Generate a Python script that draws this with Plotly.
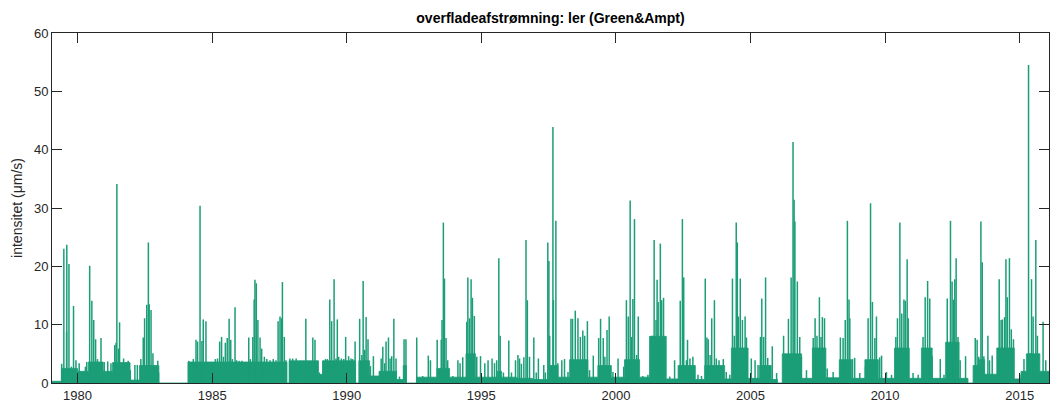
import plotly.graph_objects as go

# ---- data (decimal years, intensity in µm/s) ----
peak_year = [
    1979.41, 1979.49, 1979.59, 1979.60, 1979.68, 1979.77, 1979.85, 1979.94,
    1980.06, 1980.29, 1980.34, 1980.45, 1980.53, 1980.60, 1980.67, 1980.74, 1980.87, 1980.99,
    1981.12, 1981.24, 1981.38, 1981.43, 1981.46, 1981.52, 1981.56, 1981.71, 1981.80, 1981.88, 1981.96,
    1982.13, 1982.22, 1982.35, 1982.44, 1982.49, 1982.57, 1982.63, 1982.66, 1982.73, 1982.80, 1982.89, 1982.98, 1983.01,
    1984.13, 1984.21, 1984.30, 1984.40, 1984.46, 1984.55, 1984.62, 1984.67, 1984.77, 1984.87, 1984.96,
    1985.04, 1985.12, 1985.20, 1985.28, 1985.35, 1985.42, 1985.49, 1985.56, 1985.63, 1985.69, 1985.75, 1985.85, 1985.91,
    1986.01, 1986.11, 1986.26, 1986.36, 1986.42, 1986.51, 1986.56, 1986.59, 1986.64, 1986.70, 1986.78, 1986.84, 1986.94,
    1987.03, 1987.15, 1987.27, 1987.37, 1987.45, 1987.52, 1987.57, 1987.61, 1987.68, 1987.74, 1987.89, 1987.99,
    1988.12, 1988.30, 1988.39, 1988.48, 1988.56, 1988.66, 1988.74, 1988.82, 1988.90, 1988.98,
    1989.13, 1989.21, 1989.28, 1989.37, 1989.44, 1989.53, 1989.60, 1989.65, 1989.70, 1989.80, 1989.89, 1989.96,
    1990.07, 1990.16, 1990.22, 1990.31, 1990.48, 1990.56, 1990.61, 1990.67, 1990.72, 1990.79, 1990.88, 1990.99,
    1991.11, 1991.28, 1991.34, 1991.41, 1991.46, 1991.55, 1991.61, 1991.67, 1991.75, 1991.83, 1991.96,
    1992.13, 1992.20, 1992.60, 1992.82,
    1993.03, 1993.11, 1993.36, 1993.51, 1993.54, 1993.59, 1993.63, 1993.69, 1993.75, 1993.94,
    1994.13, 1994.21, 1994.31, 1994.46, 1994.50, 1994.56, 1994.62, 1994.67, 1994.74, 1994.83, 1994.97,
    1995.13, 1995.25, 1995.40, 1995.49, 1995.57, 1995.65, 1995.70, 1995.82,
    1996.02, 1996.12, 1996.27, 1996.36, 1996.42, 1996.49, 1996.58, 1996.66, 1996.71, 1996.79, 1996.95,
    1997.04, 1997.12, 1997.32, 1997.38, 1997.47, 1997.51, 1997.54, 1997.66, 1997.68, 1997.77, 1997.84, 1997.99,
    1998.09, 1998.22, 1998.33, 1998.39, 1998.49, 1998.59, 1998.68, 1998.77, 1998.84, 1998.94,
    1999.02, 1999.16, 1999.36, 1999.43, 1999.53, 1999.59, 1999.67, 1999.75, 1999.89,
    2000.08, 2000.29, 2000.39, 2000.46, 2000.53, 2000.58, 2000.63, 2000.69, 2000.77, 2000.83,
    2001.00, 2001.19, 2001.29, 2001.35, 2001.42, 2001.49, 2001.53, 2001.57, 2001.65, 2001.70, 2001.77, 2001.82,
    2002.00, 2002.18, 2002.39, 2002.47, 2002.52, 2002.62, 2002.66, 2002.75, 2002.86,
    2003.05, 2003.18, 2003.32, 2003.38, 2003.43, 2003.50, 2003.56, 2003.66, 2003.73, 2003.83, 2003.99,
    2004.10, 2004.23, 2004.33, 2004.40, 2004.47, 2004.51, 2004.55, 2004.62, 2004.70, 2004.80, 2004.85,
    2005.03, 2005.17, 2005.28, 2005.37, 2005.42, 2005.49, 2005.56, 2005.64, 2005.81, 2005.97,
    2006.23, 2006.32, 2006.41, 2006.51, 2006.58, 2006.62, 2006.65, 2006.74, 2006.80, 2006.83, 2006.89,
    2007.08, 2007.33, 2007.40, 2007.47, 2007.56, 2007.62, 2007.67, 2007.75, 2007.85,
    2008.07, 2008.34, 2008.44, 2008.52, 2008.60, 2008.66, 2008.69, 2008.79, 2008.87,
    2009.06, 2009.27, 2009.37, 2009.46, 2009.53, 2009.62, 2009.68, 2009.80, 2009.87,
    2010.05, 2010.24, 2010.40, 2010.46, 2010.55, 2010.62, 2010.70, 2010.75, 2010.82, 2010.86,
    2011.04, 2011.23, 2011.41, 2011.49, 2011.58, 2011.66, 2011.75,
    2012.05, 2012.19, 2012.31, 2012.43, 2012.49, 2012.55, 2012.59, 2012.64, 2012.71, 2012.79, 2012.99,
    2013.35, 2013.42, 2013.48, 2013.56, 2013.61, 2013.67, 2013.82, 2013.88, 2013.98,
    2014.24, 2014.31, 2014.36, 2014.44, 2014.49, 2014.54, 2014.62, 2014.69, 2014.77,
    2015.01, 2015.16, 2015.33, 2015.38, 2015.44, 2015.50, 2015.60, 2015.66, 2015.75, 2015.87, 2015.97, 2016.06,
]
peak_value = [
    3.3, 23.0, 8.8, 23.7, 20.4, 2.8, 13.2, 3.9,
    3.4, 2.8, 3.6, 20.1, 14.1, 10.8, 7.5, 4.1, 7.7, 3.6,
    3.7, 3.4, 6.5, 6.9, 34.1, 5.9, 10.4, 4.2, 3.5, 3.8, 2.2,
    3.1, 3.1, 4.1, 7.8, 11.1, 13.4, 24.1, 13.5, 12.5, 5.1, 2.7, 3.8, 1.8,
    3.8, 3.4, 4.1, 7.4, 7.1, 30.4, 7.2, 10.9, 10.6, 3.6, 3.6,
    3.4, 4.1, 4.2, 7.1, 7.9, 4.5, 6.9, 7.7, 11.0, 7.4, 4.1, 13.0, 3.9,
    3.8, 3.8, 3.6, 7.8, 4.1, 7.9, 14.3, 17.7, 17.1, 10.8, 7.8, 5.9, 4.5,
    4.1, 3.9, 4.1, 3.9, 10.6, 11.4, 11.1, 17.3, 7.9, 3.9, 4.2, 4.2,
    4.2, 3.8, 3.8, 11.0, 3.8, 3.8, 7.8, 7.4, 3.8, 1.8,
    3.8, 4.1, 4.1, 14.3, 10.6, 17.8, 4.2, 10.9, 4.5, 4.2, 4.1, 7.9,
    4.6, 4.2, 4.1, 7.1, 11.0, 4.8, 17.5, 5.7, 11.3, 7.5, 2.9, 4.6,
    1.1, 4.2, 6.2, 3.4, 7.1, 7.8, 4.2, 4.6, 11.0, 4.2, 1.1,
    7.5, 7.5, 7.8, 1.2,
    4.7, 3.9, 7.4, 7.4, 10.8, 27.5, 17.9, 7.7, 3.9, 1.2,
    3.9, 3.4, 4.4, 10.5, 18.1, 11.1, 17.8, 14.6, 11.5, 4.5, 4.6,
    3.4, 3.9, 4.2, 3.4, 3.9, 21.4, 8.1, 1.8,
    7.3, 1.8, 3.9, 4.8, 4.2, 3.3, 4.4, 24.5, 14.2, 4.5, 7.8,
    1.8, 4.2, 3.1, 1.8, 24.1, 20.9, 8.1, 43.9, 14.2, 27.8, 3.4, 3.9,
    4.1, 1.9, 11.0, 11.0, 12.4, 11.1, 7.9, 9.0, 8.1, 10.6,
    2.2, 4.7, 7.7, 11.0, 7.7, 4.5, 9.1, 11.4, 1.9,
    4.2, 2.8, 14.2, 11.4, 31.3, 7.9, 14.4, 28.1, 4.8, 11.4,
    1.2, 1.4, 3.9, 8.1, 24.5, 10.8, 17.7, 13.9, 23.9, 14.2, 14.6, 7.8,
    1.1, 3.9, 14.1, 28.1, 18.1, 3.9, 7.4, 4.2, 4.5,
    1.4, 1.2, 17.9, 7.8, 7.5, 4.8, 11.1, 14.2, 4.2, 3.9, 4.1,
    1.9, 1.4, 17.9, 8.1, 27.5, 24.1, 11.4, 17.9, 10.8, 11.4, 7.8,
    4.2, 3.9, 3.1, 7.9, 14.5, 7.9, 18.1, 4.3, 6.3, 1.7,
    8.1, 4.2, 11.0, 18.1, 41.3, 31.4, 27.7, 17.4, 4.8, 7.9, 4.5,
    2.2, 7.7, 11.1, 8.1, 14.7, 7.9, 11.3, 11.1, 2.5,
    1.9, 7.8, 7.7, 10.8, 27.8, 14.3, 11.1, 4.1, 4.3,
    1.7, 2.8, 11.1, 30.8, 13.9, 7.7, 11.4, 4.4, 4.7,
    1.9, 1.4, 7.9, 11.1, 27.5, 11.9, 14.3, 14.1, 21.2, 11.1,
    1.7, 1.4, 7.9, 14.7, 17.5, 14.5, 4.6,
    4.1, 1.4, 14.5, 27.8, 17.4, 14.3, 17.8, 21.4, 7.9, 3.9, 4.6,
    7.7, 7.4, 4.5, 27.7, 20.7, 4.6, 8.1, 3.9, 4.7,
    17.8, 10.8, 10.9, 11.3, 21.2, 14.7, 21.4, 9.2, 7.5,
    1.4, 4.1, 54.5, 5.1, 17.8, 11.4, 24.5, 8.1, 1.5, 10.5, 3.9, 1.0,
]

# dense "floor" of the series: level held from each year until the next one
base_year = [
    1979.00, 1979.40, 1980.00, 1980.40, 1980.95, 1981.30, 1981.95, 1982.30, 1983.02,
    1984.10, 1987.78, 1987.86, 1988.95, 1989.10, 1990.33, 1990.45, 1990.85, 1991.20,
    1991.85, 1992.10, 1992.22, 1992.59, 1993.35, 1993.82, 1994.43, 1994.78, 1995.60,
    1995.75, 1996.30, 1996.90, 1997.53, 1997.85, 1998.28, 1998.96, 1999.33, 1999.83,
    2000.32, 2000.88, 2001.25, 2001.87, 2002.31, 2002.95, 2003.30, 2004.04, 2004.29,
    2004.91, 2005.34, 2005.77, 2006.00, 2006.18, 2006.90, 2007.30, 2007.80, 2008.30,
    2008.75, 2009.25, 2009.75, 2010.35, 2010.90, 2011.35, 2011.75, 2012.25, 2012.75,
    2013.08, 2013.27, 2013.50, 2013.70, 2014.15, 2014.80, 2015.05, 2015.25, 2015.75, 2016.10,
]
base_level = [
    0.3, 2.5, 2.0, 3.6, 2.0, 3.5, 0.5, 3.0, 0.0,
    3.6, 0.0, 3.8, 1.5, 3.8, 0.0, 3.8, 1.2, 2.0,
    0.6, 3.0, 0.0, 1.0, 2.5, 1.0, 5.0, 1.0, 2.0,
    1.0, 0.8, 0.6, 3.0, 1.0, 4.0, 1.0, 3.0, 1.0,
    4.0, 1.0, 8.0, 0.7, 3.0, 0.6, 3.0, 0.7, 6.0,
    0.8, 3.0, 0.6, 0.0, 5.0, 0.8, 6.0, 0.9, 4.0,
    0.8, 4.0, 0.8, 6.0, 0.8, 6.0, 0.8, 7.0, 0.8,
    0.0, 3.0, 4.0, 1.5, 6.0, 0.7, 2.0, 5.0, 2.0, 2.0,
]

year_ticks = [1980, 1985, 1990, 1995, 2000, 2005, 2010, 2015]
y_ticks = [0, 10, 20, 30, 40, 50, 60]

COLOR = "#1b9e77"
AXC = "#262626"
FONT = "Liberation Sans, Arial, Helvetica, sans-serif"

# spikes as vertical segments from zero
sx, sy = [], []
for t, v in zip(peak_year, peak_value):
    sx += [t, t, None]
    sy += [0, v, None]

fig = go.Figure()
fig.add_trace(go.Scatter(
    x=base_year, y=base_level, mode="lines", line=dict(color=COLOR, width=0.8, shape="hv"),
    fill="tozeroy", fillcolor=COLOR, hoverinfo="skip", showlegend=False))
fig.add_trace(go.Scatter(
    x=sx, y=sy, mode="lines", line=dict(color=COLOR, width=1.5),
    hoverinfo="skip", showlegend=False))

axis_common = dict(
    showline=True, linecolor=AXC, linewidth=1, mirror="ticks",
    ticks="inside", ticklen=10, tickwidth=1, tickcolor=AXC,
    showgrid=False, zeroline=False,
    tickfont=dict(family=FONT, size=13, color=AXC),
)

fig.update_layout(
    width=1051, height=406,
    margin=dict(l=52, r=2, t=33, b=23),
    paper_bgcolor="white", plot_bgcolor="white",
    title=dict(text="<b>overfladeafstrømning: ler (Green&Ampt)</b>",
               x=0.5, xref="paper", xanchor="center", y=1 - 18 / 406, yanchor="middle",
               font=dict(family=FONT, size=14, color="black")),
    xaxis=dict(range=[1979.05, 2016.09], tickvals=year_ticks,
               ticktext=[str(y) for y in year_ticks], automargin=False, **axis_common),
    yaxis=dict(range=[0, 60], tickvals=y_ticks, automargin=False,
               title=dict(text="intensitet (μm/s)", font=dict(family=FONT, size=14, color=AXC),
                          standoff=8),
               **axis_common),
)

fig.write_html("out.html", config={"displayModeBar": False},
               post_script="document.body.style.margin='0';document.body.style.padding='0';")
